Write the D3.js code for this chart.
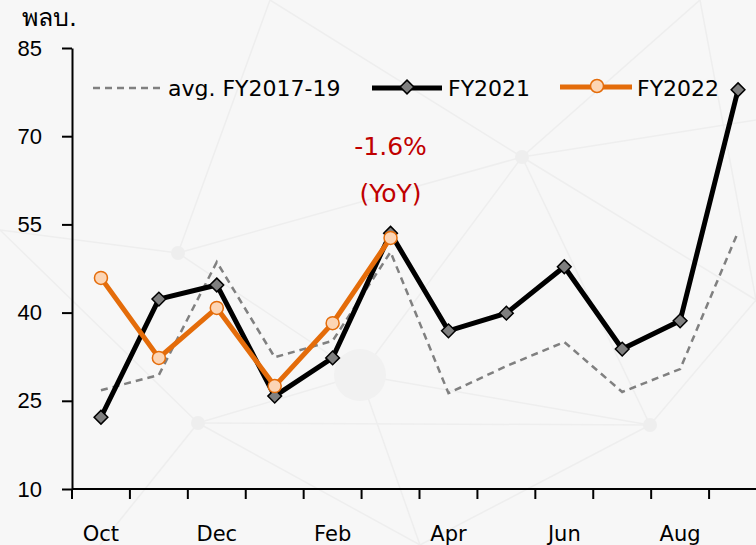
<!DOCTYPE html>
<html>
<head>
<meta charset="utf-8">
<script src="https://cdn.jsdelivr.net/npm/d3@7"></script>
<style>
  html, body { margin: 0; padding: 0; background: #f7f7f7; }
  svg { display: block; font-family: "DejaVu Sans", sans-serif; }
</style>
</head>
<body>
<div id="chart"></div>
<script>
// months of the fiscal year (Oct - Sep)
var months = ["Oct", "Nov", "Dec", "Jan", "Feb", "Mar", "Apr", "May", "Jun", "Jul", "Aug", "Sep"];
var yTicks = [10, 25, 40, 55, 70, 85];

// values
var avg1719 = [26.8, 29.4, 48.6, 32.4, 35.2, 50.3, 26.3, 30.9, 35.0, 26.5, 30.4, 53.7];
var fy2021  = [22.2, 42.3, 44.7, 25.8, 32.3, 53.5, 36.9, 39.9, 47.8, 33.8, 38.6, 77.9];
var fy2022  = [45.9, 32.3, 40.8, 27.5, 38.2, 52.7];

var width = 756, height = 545;

var svg = d3.select("#chart").append("svg")
    .attr("width", width)
    .attr("height", height);

svg.append("rect").attr("width", width).attr("height", height).attr("fill", "#f7f7f7");

// faint decorative network in the background (just texture, not data)
var bgNodes = [[178, 253], [522, 157], [198, 423], [650, 425], [360, 375], [0, 230], [756, 300], [270, 0], [700, 0], [420, 545], [100, 545], [756, 120]];
var bgLinks = [[0, 1], [0, 5], [0, 4], [1, 4], [1, 6], [1, 7], [1, 8], [1, 3], [2, 4], [2, 5], [2, 9], [2, 10], [3, 6], [3, 9], [3, 4], [0, 7], [8, 6], [4, 9], [1, 11], [2, 3]];
var bg = svg.append("g").attr("stroke", "#eeeeee").attr("stroke-width", 1.5);
bg.selectAll("line").data(bgLinks).enter().append("line")
    .attr("x1", function(d) { return bgNodes[d[0]][0]; })
    .attr("y1", function(d) { return bgNodes[d[0]][1]; })
    .attr("x2", function(d) { return bgNodes[d[1]][0]; })
    .attr("y2", function(d) { return bgNodes[d[1]][1]; });
bg.selectAll("circle").data(bgNodes.slice(0, 4)).enter().append("circle")
    .attr("cx", function(d) { return d[0]; })
    .attr("cy", function(d) { return d[1]; })
    .attr("r", 7).attr("fill", "#eeeeee").attr("stroke", "none");
bg.append("circle").attr("cx", 360).attr("cy", 375).attr("r", 26)
    .attr("fill", "#f1f1f1").attr("stroke", "none");

var x = d3.scaleBand().domain(months).range([72, 767]);
var y = d3.scaleLinear().domain([10, 85]).range([489, 48]);

var cx = function(i) { return x(months[i]) + x.bandwidth() / 2; };

// y axis
var yAxis = svg.append("g")
    .attr("transform", "translate(72,0)")
    .call(d3.axisLeft(y).tickValues(yTicks).tickSize(10).tickPadding(20).tickSizeOuter(0));
yAxis.select(".domain").attr("stroke", "#000").attr("stroke-width", 2);
yAxis.selectAll(".tick line").attr("stroke", "#000").attr("stroke-width", 2);
yAxis.selectAll(".tick text").attr("font-size", 22).attr("fill", "#000")
    .attr("font-family", "inherit");

// x axis: ticks on band edges, labels every other month
var xAxis = svg.append("g").attr("transform", "translate(0,489)");
xAxis.append("line")
    .attr("x1", 72).attr("x2", width)
    .attr("stroke", "#000").attr("stroke-width", 2);
xAxis.selectAll(".xt")
    .data(months)
    .enter().append("line")
    .attr("class", "xt")
    .attr("x1", function(d) { return x(d); })
    .attr("x2", function(d) { return x(d); })
    .attr("y1", 0).attr("y2", 10)
    .attr("stroke", "#000").attr("stroke-width", 2);
xAxis.selectAll(".xl")
    .data(months.filter(function(d, i) { return i % 2 === 0; }))
    .enter().append("text")
    .attr("class", "xl")
    .attr("x", function(d) { return x(d) + x.bandwidth() / 2; })
    .attr("y", 52)
    .attr("text-anchor", "middle")
    .attr("font-size", 21)
    .attr("fill", "#000")
    .text(function(d) { return d; });

// unit label
svg.append("text")
    .attr("x", 22).attr("y", 26)
    .attr("font-size", 25)
    .attr("fill", "#000")
    .text("พลบ.");

var line = d3.line()
    .x(function(d, i) { return cx(i); })
    .y(function(d) { return y(d); });

// avg FY2017-19 dashed
svg.append("path")
    .datum(avg1719)
    .attr("d", line)
    .attr("fill", "none")
    .attr("stroke", "#808080")
    .attr("stroke-width", 2.5)
    .attr("stroke-dasharray", "7,5");

// FY2021 black with diamonds
svg.append("path")
    .datum(fy2021)
    .attr("d", line)
    .attr("fill", "none")
    .attr("stroke", "#000")
    .attr("stroke-width", 5);

var diamond = d3.symbol().type(d3.symbolDiamond2).size(120);

svg.selectAll(".d21")
    .data(fy2021)
    .enter().append("path")
    .attr("class", "d21")
    .attr("d", diamond)
    .attr("transform", function(d, i) { return "translate(" + cx(i) + "," + y(d) + ")"; })
    .attr("fill", "#7f7f7f")
    .attr("stroke", "#000")
    .attr("stroke-width", 1.5);

// FY2022 orange with circles
svg.append("path")
    .datum(fy2022)
    .attr("d", line)
    .attr("fill", "none")
    .attr("stroke", "#e46c0a")
    .attr("stroke-width", 5);

svg.selectAll(".c22")
    .data(fy2022)
    .enter().append("circle")
    .attr("class", "c22")
    .attr("cx", function(d, i) { return cx(i); })
    .attr("cy", function(d) { return y(d); })
    .attr("r", 6.5)
    .attr("fill", "#fcd5b5")
    .attr("stroke", "#e46c0a")
    .attr("stroke-width", 1.5);

// annotation
var ann = svg.append("g").attr("fill", "#c00000").attr("font-size", 25).attr("text-anchor", "middle");
ann.append("text").attr("x", cx(5)).attr("y", 155).text("-1.6%");
ann.append("text").attr("x", cx(5)).attr("y", 202).text("(YoY)");

// legend
var lg = svg.append("g").attr("font-size", 22).attr("fill", "#000");
lg.append("line").attr("x1", 93).attr("x2", 163).attr("y1", 88).attr("y2", 88)
    .attr("stroke", "#808080").attr("stroke-width", 2.5).attr("stroke-dasharray", "7,5");
lg.append("text").attr("x", 168).attr("y", 96).text("avg. FY2017-19");

lg.append("line").attr("x1", 372).attr("x2", 442).attr("y1", 88).attr("y2", 88)
    .attr("stroke", "#000").attr("stroke-width", 5);
lg.append("path").attr("d", diamond).attr("transform", "translate(407,87)")
    .attr("fill", "#7f7f7f").attr("stroke", "#000").attr("stroke-width", 1.5);
lg.append("text").attr("x", 448).attr("y", 96).text("FY2021");

lg.append("line").attr("x1", 560).attr("x2", 632).attr("y1", 87).attr("y2", 87)
    .attr("stroke", "#e46c0a").attr("stroke-width", 5);
lg.append("circle").attr("cx", 597).attr("cy", 86).attr("r", 6.5)
    .attr("fill", "#fcd5b5").attr("stroke", "#e46c0a").attr("stroke-width", 1.5);
lg.append("text").attr("x", 637).attr("y", 96).text("FY2022");
</script>
</body>
</html>
